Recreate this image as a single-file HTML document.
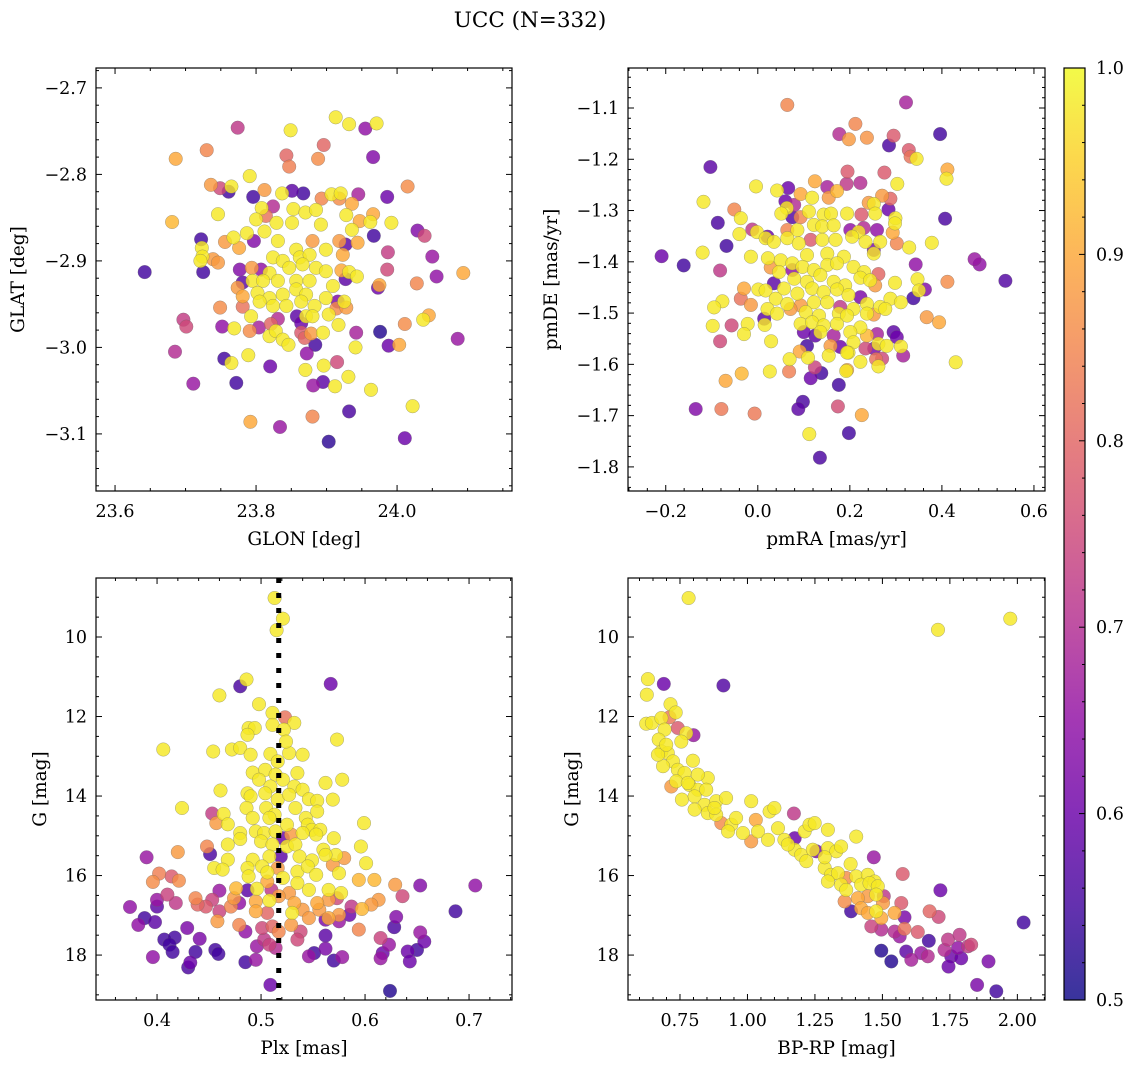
<!DOCTYPE html>
<html><head><meta charset="utf-8">
<style>
html,body{margin:0;padding:0;background:#fff;}
svg{display:block;font-family:"DejaVu Serif","Liberation Serif",serif;}
</style></head>
<body>
<svg id="fig" width="1136" height="1068" viewBox="0 0 1136 1068" xmlns="http://www.w3.org/2000/svg">
<text x="530" y="27" font-size="21.5" text-anchor="middle">UCC (N=332)</text>
</svg>
<script>
// ---------- Panel 1 data: GLON / GLAT ----------
const p1Lon=[23.913,23.932,23.971,23.955,23.774,23.849,23.686,23.730,23.843,23.847,23.896,23.888,23.966,23.791,23.736,23.749,23.761,23.765,23.796,23.812,23.851,23.867,23.837,23.893,23.907,23.920,23.918,23.945,23.986,24.015,23.746,23.681,23.808,23.824,23.853,23.870,23.885,23.936,23.928,23.947,23.966,23.962,23.992,23.800,23.814,23.829,23.851,23.892,23.936,23.967,24.029,24.039,23.722,23.723,23.756,23.768,23.776,23.787,23.812,23.797,23.831,23.857,23.880,23.918,23.927,23.944,23.724,23.739,23.746,23.721,23.824,23.838,23.862,23.876,23.899,23.923,23.987,24.050,23.642,23.725,23.777,23.794,23.807,23.819,23.847,23.866,23.885,23.899,23.921,23.932,23.943,23.986,24.056,24.094,23.781,23.795,23.810,23.831,23.857,23.876,23.909,23.927,23.975,23.973,24.028,23.774,23.781,23.802,23.819,23.838,23.857,23.871,23.899,23.916,23.925,23.749,23.781,23.805,23.824,23.843,23.864,23.883,23.903,23.914,23.928,23.697,23.701,23.752,23.769,23.793,23.791,23.804,23.821,23.831,23.858,23.864,23.871,23.880,23.917,23.819,23.828,23.838,23.846,23.864,23.869,23.878,23.895,23.884,23.942,23.976,23.685,23.941,23.988,24.003,24.011,24.037,24.045,24.086,23.872,23.915,23.755,23.765,23.789,23.820,23.870,23.896,23.931,23.711,23.772,23.881,23.895,23.912,23.963,24.022,23.792,23.834,23.880,23.932,23.903,24.011];
const p1Lat=[-2.734,-2.742,-2.741,-2.747,-2.746,-2.749,-2.782,-2.772,-2.778,-2.791,-2.766,-2.782,-2.780,-2.802,-2.812,-2.816,-2.820,-2.814,-2.826,-2.818,-2.819,-2.822,-2.822,-2.828,-2.823,-2.822,-2.828,-2.823,-2.826,-2.814,-2.846,-2.855,-2.839,-2.837,-2.840,-2.844,-2.841,-2.834,-2.847,-2.854,-2.846,-2.855,-2.856,-2.852,-2.848,-2.856,-2.856,-2.858,-2.864,-2.871,-2.865,-2.871,-2.875,-2.885,-2.878,-2.873,-2.885,-2.868,-2.866,-2.877,-2.877,-2.887,-2.877,-2.877,-2.881,-2.879,-2.895,-2.898,-2.902,-2.900,-2.896,-2.900,-2.896,-2.893,-2.887,-2.893,-2.890,-2.895,-2.913,-2.913,-2.910,-2.908,-2.910,-2.914,-2.908,-2.904,-2.908,-2.912,-2.911,-2.913,-2.918,-2.910,-2.918,-2.914,-2.925,-2.923,-2.923,-2.923,-2.923,-2.923,-2.929,-2.921,-2.928,-2.931,-2.926,-2.931,-2.941,-2.937,-2.943,-2.939,-2.933,-2.939,-2.943,-2.947,-2.947,-2.954,-2.953,-2.947,-2.952,-2.952,-2.947,-2.952,-2.962,-2.955,-2.954,-2.968,-2.976,-2.976,-2.978,-2.964,-2.981,-2.977,-2.973,-2.967,-2.964,-2.972,-2.964,-2.964,-2.974,-2.987,-2.981,-2.991,-2.997,-2.983,-2.989,-2.984,-2.983,-2.997,-2.983,-2.982,-3.005,-3.000,-2.998,-2.997,-2.973,-2.968,-2.963,-2.990,-3.007,-3.017,-3.013,-3.018,-3.009,-3.022,-3.026,-3.021,-3.034,-3.042,-3.041,-3.044,-3.040,-3.045,-3.049,-3.068,-3.086,-3.092,-3.080,-3.074,-3.109,-3.105];
const p1Prob=[.98,.98,.98,.65,.72,.98,.9,.85,.8,.84,.8,.86,.63,.98,.88,.75,.55,.98,.55,.88,.58,.55,.98,.85,.98,.98,.86,.68,.6,.86,.98,.92,.98,.7,.98,.98,.98,.9,.98,.9,.9,.98,.98,.98,.82,.98,.98,.98,.98,.55,.63,.75,.55,.98,.88,.98,.9,.98,.98,.63,.98,.98,.88,.88,.58,.9,.98,.88,.88,.98,.98,.98,.98,.98,.98,.9,.73,.66,.55,.55,.63,.88,.65,.98,.98,.98,.98,.98,.9,.98,.98,.75,.65,.9,.58,.98,.98,.98,.98,.98,.98,.58,.9,.6,.85,.88,.9,.98,.98,.98,.98,.98,.98,.62,.98,.86,.82,.98,.98,.98,.98,.98,.98,.86,.88,.73,.75,.65,.98,.98,.86,.68,.8,.7,.58,.6,.98,.98,.98,.98,.98,.98,.98,.78,.8,.88,.98,.55,.68,.52,.7,.98,.6,.9,.86,.98,.9,.66,.65,.75,.55,.98,.98,.6,.98,.98,.98,.66,.55,.66,.58,.98,.98,.98,.9,.66,.85,.56,.53,.6];
const p1XTicks=[23.6,23.8,24.0];
const p1YTicks=[-2.7,-2.8,-2.9,-3.0,-3.1];

// ---------- Panel 2 data: pmRA / pmDE ----------
const p2PmRA=[0.064,0.322,0.212,0.177,0.198,0.237,0.295,0.396,0.285,0.328,0.332,0.345,-0.103,0.412,0.410,0.195,0.275,0.193,0.223,0.124,0.151,0.172,0.066,0.042,-0.004,0.303,-0.118,0.093,0.118,0.154,0.241,0.252,0.270,0.288,0.060,0.079,0.063,-0.051,-0.037,-0.087,0.051,0.075,0.093,0.111,0.143,0.159,0.194,0.225,0.255,0.284,0.299,0.407,0.298,-0.012,-0.040,-0.002,0.021,0.017,0.064,0.086,0.122,0.140,0.165,0.201,0.219,0.230,0.259,0.293,-0.068,-0.015,-0.120,0.035,0.064,0.089,0.115,0.140,0.169,0.205,0.234,0.266,0.252,0.302,0.329,0.378,-0.209,-0.161,-0.082,0.022,0.050,0.075,0.107,0.151,0.187,0.252,0.343,0.471,0.482,0.538,0.028,0.046,0.075,0.097,0.122,0.151,0.172,0.208,0.231,0.262,0.035,0.079,0.107,0.136,0.165,0.190,0.223,0.255,0.244,0.298,0.347,0.412,-0.030,0.001,0.017,0.057,0.086,0.118,0.143,0.172,0.197,0.223,0.363,0.350,0.338,-0.037,-0.015,-0.077,-0.095,0.039,0.064,0.093,0.122,0.151,0.179,0.208,0.237,0.266,0.288,0.311,0.021,0.042,0.071,0.104,0.133,0.176,0.194,0.237,0.252,0.277,0.367,0.394,-0.098,-0.057,-0.022,-0.030,0.014,0.015,0.093,0.118,0.143,0.172,0.223,0.259,0.295,0.302,-0.082,0.029,0.100,0.125,0.136,0.165,0.201,0.237,0.262,0.280,0.311,0.107,0.158,0.179,0.208,0.234,0.197,0.253,0.270,0.316,0.069,0.091,0.109,0.154,0.194,0.223,0.257,0.262,0.430,-0.035,0.026,0.068,0.124,0.138,0.115,0.194,0.192,-0.070,0.176,-0.135,-0.079,-0.007,0.088,0.098,0.174,0.226,0.112,0.198,0.135];
const p2PmDE=[-1.094,-1.089,-1.131,-1.151,-1.161,-1.158,-1.154,-1.151,-1.173,-1.182,-1.195,-1.199,-1.215,-1.220,-1.238,-1.224,-1.226,-1.248,-1.246,-1.243,-1.254,-1.262,-1.256,-1.261,-1.253,-1.248,-1.283,-1.268,-1.275,-1.275,-1.285,-1.287,-1.271,-1.277,-1.282,-1.289,-1.295,-1.298,-1.315,-1.324,-1.306,-1.313,-1.313,-1.302,-1.308,-1.306,-1.306,-1.308,-1.306,-1.298,-1.315,-1.316,-1.325,-1.337,-1.346,-1.342,-1.351,-1.354,-1.338,-1.338,-1.328,-1.331,-1.329,-1.338,-1.342,-1.334,-1.338,-1.343,-1.369,-1.390,-1.382,-1.361,-1.354,-1.364,-1.357,-1.357,-1.357,-1.351,-1.361,-1.361,-1.377,-1.364,-1.372,-1.363,-1.389,-1.407,-1.417,-1.393,-1.397,-1.403,-1.387,-1.384,-1.390,-1.384,-1.405,-1.395,-1.405,-1.437,-1.411,-1.420,-1.416,-1.410,-1.416,-1.406,-1.403,-1.410,-1.420,-1.424,-1.442,-1.433,-1.439,-1.426,-1.439,-1.446,-1.431,-1.446,-1.436,-1.441,-1.434,-1.439,-1.452,-1.454,-1.456,-1.452,-1.462,-1.452,-1.459,-1.454,-1.465,-1.469,-1.454,-1.456,-1.471,-1.472,-1.484,-1.477,-1.489,-1.472,-1.482,-1.485,-1.479,-1.479,-1.488,-1.492,-1.482,-1.488,-1.472,-1.479,-1.492,-1.501,-1.492,-1.498,-1.505,-1.501,-1.505,-1.501,-1.503,-1.492,-1.508,-1.518,-1.525,-1.524,-1.521,-1.541,-1.511,-1.523,-1.521,-1.518,-1.524,-1.521,-1.528,-1.541,-1.537,-1.547,-1.555,-1.555,-1.537,-1.544,-1.537,-1.544,-1.537,-1.544,-1.560,-1.564,-1.565,-1.564,-1.564,-1.566,-1.557,-1.569,-1.577,-1.569,-1.589,-1.583,-1.590,-1.575,-1.587,-1.583,-1.577,-1.595,-1.590,-1.604,-1.596,-1.618,-1.614,-1.614,-1.606,-1.617,-1.627,-1.611,-1.613,-1.632,-1.640,-1.687,-1.687,-1.696,-1.687,-1.673,-1.682,-1.699,-1.736,-1.734,-1.782];
const p2Prob=[.85,.68,.85,.7,.88,.87,.78,.55,.56,.78,.82,.98,.58,.9,.98,.78,.78,.72,.7,.9,.68,.92,.6,.98,.98,.98,.98,.9,.98,.88,.88,.98,.88,.8,.6,.7,.98,.85,.98,.56,.98,.57,.85,.98,.98,.98,.98,.78,.98,.6,.98,.56,.98,.72,.98,.98,.6,.98,.85,.98,.98,.98,.98,.65,.98,.7,.65,.9,.55,.98,.98,.98,.98,.98,.78,.98,.98,.98,.98,.98,.62,.85,.98,.98,.6,.55,.72,.98,.98,.98,.98,.98,.98,.98,.65,.66,.65,.57,.88,.98,.65,.98,.98,.98,.98,.98,.98,.8,.58,.98,.98,.98,.98,.98,.98,.88,.98,.98,.98,.86,.9,.98,.98,.98,.98,.98,.98,.98,.98,.62,.63,.98,.55,.82,.88,.98,.98,.98,.98,.88,.98,.98,.72,.98,.98,.98,.98,.98,.98,.98,.88,.98,.98,.98,.98,.98,.88,.98,.88,.9,.98,.75,.98,.98,.58,.98,.98,.98,.98,.98,.98,.68,.58,.6,.75,.98,.6,.58,.98,.68,.98,.92,.98,.98,.98,.55,.88,.6,.98,.75,.98,.62,.75,.68,.98,.9,.98,.98,.98,.98,.82,.98,.98,.92,.98,.84,.74,.55,.6,.9,.98,.9,.55,.63,.83,.83,.58,.56,.76,.9,.98,.55,.56,.72];
const p2XTicks=[-0.2,0.0,0.2,0.4,0.6];
const p2YTicks=[-1.1,-1.2,-1.3,-1.4,-1.5,-1.6,-1.7,-1.8];

// ---------- Panel 3 data: Plx / G ----------
const p3Plx=[.513,.521,.515,.480,.486,.567,.460,.498,.511,.523,.511,.532,.522,.488,.494,.487,.406,.573,.454,.472,.480,.490,.509,.527,.540,.524,.516,.492,.504,.514,.535,.498,.509,.521,.532,.540,.562,.578,.461,.487,.490,.504,.516,.527,.546,.554,.569,.424,.486,.505,.513,.533,.543,.554,.464,.453,.457,.468,.492,.508,.525,.545,.549,.557,.599,.480,.495,.503,.514,.521,.529,.540,.553,.570,.480,.468,.500,.511,.525,.533,.560,.572,.596,.451,.448,.420,.390,.468,.492,.508,.519,.537,.549,.562,.580,.601,.455,.463,.487,.501,.516,.535,.545,.569,.402,.414,.421,.396,.488,.506,.506,.521,.535,.553,.575,.594,.609,.629,.653,.706,.460,.487,.476,.496,.510,.527,.546,.565,.577,.636,.410,.400,.418,.437,.453,.474,.495,.508,.517,.532,.554,.565,.573,.587,.613,.374,.400,.439,.447,.460,.471,.479,.495,.506,.530,.540,.546,.556,.565,.575,.585,.597,.606,.630,.687,.388,.382,.398,.429,.458,.479,.485,.501,.511,.517,.529,.538,.562,.575,.594,.628,.653,.407,.417,.412,.441,.503,.496,.508,.535,.562,.615,.623,.657,.396,.415,.437,.456,.459,.485,.495,.514,.546,.551,.562,.570,.578,.615,.617,.641,.650,.643,.432,.430,.509,.624];
const p3G=[9.02,9.54,9.83,11.24,11.07,11.18,11.47,11.69,11.91,12.02,12.21,12.16,12.33,12.29,12.29,12.46,12.83,12.58,12.88,12.83,12.79,12.96,12.94,12.92,12.96,12.63,13.13,13.41,13.34,13.46,13.42,13.59,13.76,13.59,13.76,13.84,13.67,13.59,13.86,13.93,14.01,13.93,14.09,13.97,14.08,14.12,14.09,14.30,14.30,14.30,14.47,14.30,14.55,14.39,14.45,14.44,14.68,14.71,14.55,14.55,14.72,14.72,14.85,14.85,14.68,14.93,14.89,14.93,14.89,15.06,14.97,14.93,14.97,15.06,15.08,15.22,15.14,15.22,15.27,15.22,15.35,15.48,15.27,15.46,15.27,15.41,15.54,15.60,15.60,15.52,15.52,15.52,15.62,15.48,15.56,15.69,15.81,15.85,15.81,15.77,15.81,15.90,15.77,15.73,15.95,16.02,16.13,16.16,16.02,15.92,16.15,16.06,16.19,15.98,15.94,16.11,16.11,16.23,16.25,16.25,16.38,16.37,16.32,16.33,16.36,16.44,16.36,16.36,16.44,16.52,16.48,16.61,16.69,16.57,16.61,16.57,16.65,16.63,16.52,16.69,16.69,16.61,16.57,16.78,16.61,16.79,16.78,16.73,16.78,16.90,16.78,16.69,16.90,16.94,16.94,16.86,17.07,16.86,17.07,16.99,16.99,16.84,16.73,17.04,16.90,17.07,17.24,17.17,17.32,17.15,17.24,17.41,17.32,17.28,17.41,17.24,17.41,17.11,17.15,17.36,17.30,17.43,17.61,17.56,17.74,17.59,17.61,17.78,17.74,17.61,17.51,17.57,17.74,17.66,18.05,17.92,17.92,17.87,17.97,18.18,18.12,17.82,18.03,17.95,17.84,18.14,18.05,18.08,17.95,17.91,17.87,18.16,18.19,18.31,18.75,18.90];
const p3Prob=[.98,.98,.98,.56,.98,.6,.98,.98,.98,.82,.98,.98,.98,.98,.98,.98,.98,.98,.98,.98,.98,.98,.98,.98,.98,.98,.98,.98,.98,.98,.98,.98,.98,.98,.98,.98,.98,.98,.98,.98,.98,.98,.98,.98,.98,.98,.98,.98,.98,.98,.98,.98,.98,.98,.98,.73,.88,.98,.98,.98,.98,.98,.98,.98,.98,.98,.98,.98,.98,.6,.88,.98,.98,.98,.98,.98,.98,.98,.98,.98,.98,.98,.98,.56,.85,.88,.66,.98,.98,.98,.58,.98,.98,.98,.88,.98,.98,.98,.98,.98,.88,.98,.98,.88,.84,.78,.86,.86,.98,.98,.9,.98,.98,.98,.98,.92,.92,.88,.63,.65,.66,.58,.92,.98,.72,.88,.98,.98,.98,.75,.74,.66,.72,.85,.74,.88,.9,.98,.88,.9,.9,.88,.75,.72,.88,.65,.58,.8,.78,.74,.85,.65,.9,.8,.98,.88,.88,.88,.9,.88,.6,.92,.88,.63,.55,.55,.65,.58,.62,.88,.85,.65,.75,.8,.85,.88,.75,.62,.66,.85,.56,.66,.55,.55,.55,.62,.72,.66,.74,.75,.58,.74,.66,.6,.65,.55,.55,.55,.55,.55,.66,.7,.66,.55,.62,.55,.66,.66,.6,.6,.55,.6,.6,.56,.6,.52];
const p3XTicks=[0.4,0.5,0.6,0.7];
const p3YTicks=[10,12,14,16,18];
const p3PlxMedian=[0.517];

// ---------- Panel 4 data: BP-RP / G ----------
const p4Color=[.782,1.974,1.706,.631,.627,.690,.911,.715,.734,.711,.625,.646,.681,.693,.742,.800,.773,.671,.755,.681,.705,.724,.798,.687,.742,.767,.853,.718,.736,.785,.816,.847,.757,.804,.841,.884,.921,.804,.853,.884,.903,.940,.958,1.014,1.031,.983,.928,1.014,1.039,1.082,1.100,1.113,1.076,1.137,1.172,1.175,1.212,1.230,1.249,1.298,1.403,1.175,1.199,1.218,1.255,1.298,1.329,1.347,1.468,1.286,1.310,1.335,1.382,1.366,1.403,1.446,1.471,1.575,1.298,1.347,1.366,1.421,1.452,1.483,1.505,1.715,1.360,1.409,1.446,1.477,1.502,1.384,1.421,1.446,1.477,1.496,1.545,1.570,1.582,1.675,1.708,1.459,1.496,1.545,1.582,1.631,1.564,2.023,1.496,1.533,1.588,1.607,1.644,1.668,1.672,1.730,1.743,1.755,1.745,1.780,1.786,1.792,1.817,1.829,1.893,1.851,1.922,1.286,1.242,1.150,.878,.779,.668,.699,.816];
const p4G=[9.02,9.54,9.82,11.06,11.45,11.18,11.22,11.69,11.90,12.02,12.18,12.16,12.04,12.33,12.29,12.47,12.42,12.58,12.63,12.88,12.92,13.13,13.11,13.25,13.34,13.42,13.55,13.76,13.63,13.72,13.84,13.84,14.09,14.01,14.22,14.13,14.05,14.34,14.43,14.47,14.68,14.72,14.55,14.13,14.60,14.93,14.89,15.14,14.89,14.39,14.30,14.81,15.10,15.10,14.44,15.06,14.89,14.72,14.68,14.85,15.02,15.35,15.48,15.64,15.39,15.31,15.39,15.27,15.54,15.81,15.98,15.94,15.71,16.06,16.02,15.98,16.15,15.96,16.15,16.23,16.36,16.23,16.19,16.27,16.52,16.37,16.65,16.57,16.52,16.48,16.69,16.90,16.82,16.94,16.90,17.07,16.94,16.69,17.05,16.90,17.04,17.28,17.36,17.41,17.34,17.42,17.53,17.18,17.89,18.16,17.91,18.12,17.95,18.03,17.64,17.87,17.61,18.03,18.29,17.82,17.49,18.08,17.78,17.74,18.16,18.75,18.91,15.54,15.35,15.22,14.30,13.67,12.96,12.71,13.46];
const p4Prob=[.98,.98,.98,.98,.98,.6,.57,.98,.98,.83,.98,.98,.98,.98,.78,.66,.98,.98,.98,.98,.98,.98,.98,.98,.98,.98,.98,.88,.98,.98,.98,.98,.98,.98,.98,.98,.98,.98,.98,.98,.86,.98,.98,.98,.9,.98,.98,.88,.98,.98,.98,.98,.98,.98,.72,.6,.98,.98,.98,.98,.98,.98,.98,.98,.62,.98,.98,.98,.66,.98,.98,.98,.98,.86,.98,.98,.98,.78,.98,.98,.98,.98,.98,.98,.72,.6,.86,.9,.88,.98,.88,.55,.9,.9,.98,.9,.9,.78,.62,.8,.75,.74,.7,.7,.82,.78,.66,.55,.52,.52,.58,.68,.66,.7,.55,.7,.72,.6,.6,.65,.72,.6,.72,.75,.62,.62,.55,.98,.98,.98,.98,.98,.98,.98,.98];
const p4XTicks=[0.75,1.00,1.25,1.50,1.75,2.00];
const p4YTicks=[10,12,14,16,18];

// ---------- colorbar ----------
const cbTicks=[0.5,0.6,0.7,0.8,0.9,1.0];
const cbRange=[0.5,1.0];

const NS="http://www.w3.org/2000/svg";
const svg=document.getElementById('fig');
const TICKFS=17.5, LABFS=18.5;
function mk(tag,attrs,parent){const e=document.createElementNS(NS,tag);for(const k in attrs)e.setAttribute(k,attrs[k]);(parent||svg).appendChild(e);return e;}

const plasma=[[13,8,135],[65,4,157],[106,0,168],[143,13,164],[177,42,144],[204,71,120],[225,100,98],[242,132,75],[252,166,54],[252,206,37],[240,249,33]];
function cmap(v){let t=(v-cbRange[0])/(cbRange[1]-cbRange[0]);t=Math.max(0,Math.min(1,t))*10;const i=Math.min(9,Math.floor(t)),f=t-i;const a=plasma[i],b=plasma[i+1];return 'rgb('+a.map((x,k)=>Math.round(x+(b[k]-x)*f)).join(',')+')';}
function fmt(v,d){const s=Math.abs(v).toFixed(d);return (v<0?'\u2212':'')+s;}

function panel(o){
  const g=mk('g',{});
  
  
  const sx=v=>o.x0+(v-o.xd[0])/(o.xd[1]-o.xd[0])*(o.x1-o.x0);
  const sy=v=>o.y0+(v-o.yd[0])/(o.yd[1]-o.yd[0])*(o.y1-o.y0);
  const clipId='clip-'+o.name;
  const cp=mk('clipPath',{id:clipId},g);mk('rect',{x:o.x0,y:o.y0,width:o.x1-o.x0,height:o.y1-o.y0},cp);
  const pts=mk('g',{'clip-path':'url(#'+clipId+')'},g);
  
  
  const idx=o.c.map((v,i)=>i).sort((a,b)=>o.c[a]-o.c[b]);
  idx.forEach(i=>{
    const c=mk('circle',{cx:sx(o.xs[i]).toFixed(1),cy:sy(o.ys[i]).toFixed(1),r:6.8,fill:cmap(o.c[i]),'fill-opacity':0.82,stroke:'#666','stroke-opacity':0.55,'stroke-width':0.5},pts);
    
    
  });
  if(o.vline){o.vline.forEach(v=>{const l=mk('line',{x1:sx(v),x2:sx(v),y1:o.y0,y2:o.y1,stroke:'#000','stroke-width':5,'stroke-dasharray':'5,10'},g);
    
    });}
  const tg=mk('g',{stroke:'#000','stroke-width':1},g);
  
  
  const lo=Math.min(o.xd[0],o.xd[1]),hi=Math.max(o.xd[0],o.xd[1]);
  for(let k=Math.ceil(lo/o.xm-1e-6);k*o.xm<=hi+1e-9;k++){const X=sx(k*o.xm);const maj=o.xt.some(t=>Math.abs(t-k*o.xm)<1e-6);const L=maj?6:3;
    mk('line',{x1:X,x2:X,y1:o.y1,y2:o.y1-L},tg);mk('line',{x1:X,x2:X,y1:o.y0,y2:o.y0+L},tg);}
  const ylo=Math.min(o.yd[0],o.yd[1]),yhi=Math.max(o.yd[0],o.yd[1]);
  for(let k=Math.ceil(ylo/o.ym-1e-6);k*o.ym<=yhi+1e-9;k++){const Y=sy(k*o.ym);const maj=o.yt.some(t=>Math.abs(t-k*o.ym)<1e-6);const L=maj?6:3;
    mk('line',{x1:o.x0,x2:o.x0+L,y1:Y,y2:Y},tg);mk('line',{x1:o.x1,x2:o.x1-L,y1:Y,y2:Y},tg);}
  o.xt.forEach(t=>{const e=mk('text',{x:sx(t),y:o.y1+26,'font-size':TICKFS,'text-anchor':'middle'},g);e.textContent=fmt(t,o.xdp);
    
    });
  o.yt.forEach(t=>{const e=mk('text',{x:o.x0-9,y:sy(t)+6,'font-size':TICKFS,'text-anchor':'end'},g);e.textContent=fmt(t,o.ydp);
    
    });
  const fr=mk('rect',{x:o.x0,y:o.y0,width:o.x1-o.x0,height:o.y1-o.y0,fill:'none',stroke:'#000','stroke-width':1.2},g);
  
  
  const xl=mk('text',{x:(o.x0+o.x1)/2,y:o.y1+54,'font-size':LABFS,'text-anchor':'middle'},g);xl.textContent=o.xl;
  
  
  const yx=o.ylx,yy=(o.y0+o.y1)/2;
  const yl=mk('text',{x:yx,y:yy,'font-size':LABFS,'text-anchor':'middle',transform:'rotate(-90 '+yx+' '+yy+')'},g);yl.textContent=o.yl;
  
  
}

panel({name:'glon-glat-panel',x0:96,x1:512,y0:68,y1:491,xd:[23.573,24.163],yd:[-2.677,-3.166],xs:p1Lon,ys:p1Lat,c:p1Prob,xt:p1XTicks,yt:p1YTicks,xm:0.05,ym:0.02,xdp:1,ydp:1,xl:'GLON [deg]',yl:'GLAT [deg]',ylx:24});
panel({name:'pm-panel',x0:628,x1:1045,y0:68,y1:491,xd:[-0.282,0.624],yd:[-1.022,-1.847],xs:p2PmRA,ys:p2PmDE,c:p2Prob,xt:p2XTicks,yt:p2YTicks,xm:0.04,ym:0.02,xdp:1,ydp:1,xl:'pmRA [mas/yr]',yl:'pmDE [mas/yr]',ylx:557});
panel({name:'plx-g-panel',x0:96,x1:512,y0:578,y1:1000,xd:[0.3413,0.7413],yd:[8.516,19.13],xs:p3Plx,ys:p3G,c:p3Prob,xt:p3XTicks,yt:p3YTicks,xm:0.02,ym:0.5,xdp:1,ydp:0,xl:'Plx [mas]',yl:'G [mag]',ylx:46,vline:p3PlxMedian});
panel({name:'cmd-panel',x0:628,x1:1045,y0:578,y1:1000,xd:[0.5574,2.1024],yd:[8.516,19.13],xs:p4Color,ys:p4G,c:p4Prob,xt:p4XTicks,yt:p4YTicks,xm:0.05,ym:0.5,xdp:2,ydp:0,xl:'BP-RP [mag]',yl:'G [mag]',ylx:578});

(function(){
  const x0=1064,x1=1085,y0=68,y1=1000;
  const cb=mk('g',{});
  
  
  const defs=mk('defs',{},cb);
  const lg=mk('linearGradient',{id:'cbgrad',x1:0,y1:1,x2:0,y2:0},defs);
  for(let i=0;i<=10;i++){mk('stop',{offset:(i/10),'stop-color':cmap(cbRange[0]+(cbRange[1]-cbRange[0])*i/10)},lg);}
  const r=mk('rect',{x:x0,y:y0,width:x1-x0,height:y1-y0,fill:'url(#cbgrad)','fill-opacity':0.82},cb);
  
  
  const sy=v=>y1-(v-cbRange[0])/(cbRange[1]-cbRange[0])*(y1-y0);
  for(let k=25;k<=50;k++){const v=k*0.02;const Y=sy(v);const maj=cbTicks.some(t=>Math.abs(t-v)<1e-6);
    mk('line',{x1:x1,x2:x1-(maj?6:3),y1:Y,y2:Y,stroke:'#000','stroke-width':1},cb);}
  cbTicks.forEach(t=>{const e=mk('text',{x:x1+11,y:sy(t)+6,'font-size':TICKFS},cb);e.textContent=t.toFixed(1);
    
    });
  mk('rect',{x:x0,y:y0,width:x1-x0,height:y1-y0,fill:'none',stroke:'#000','stroke-width':1.2},cb);
})();
</script>
</body></html>
